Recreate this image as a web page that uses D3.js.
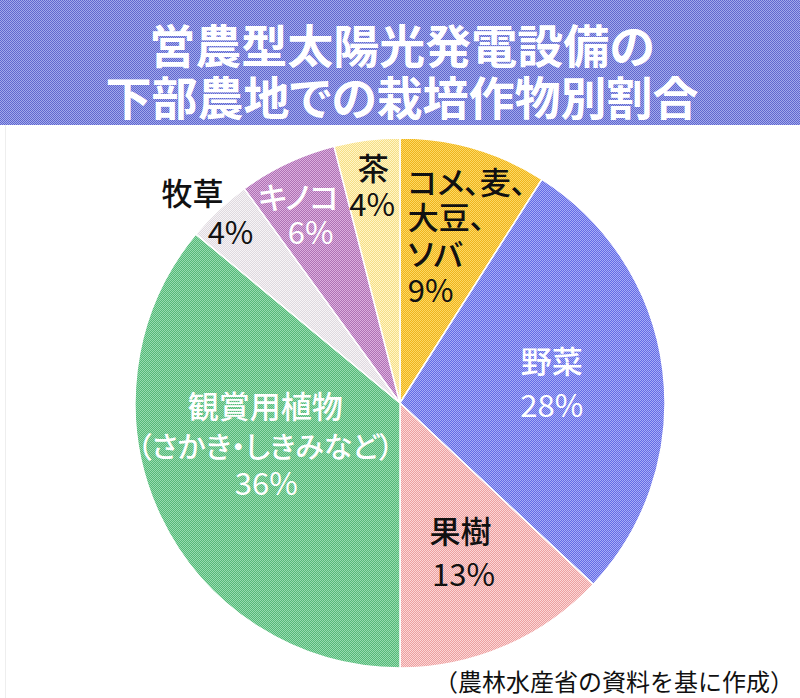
<!DOCTYPE html>
<html>
<head>
<meta charset="utf-8">
<script src="https://cdn.jsdelivr.net/npm/d3@7"></script>
<style>
  body { margin: 0; background: #fff; }
  svg { display: block; font-family: "Noto Sans CJK JP", "Noto Sans", sans-serif; font-feature-settings: "palt"; }
</style>
</head>
<body>
<div id="chart"></div>
<script>
const titleLines = ["営農型太陽光発電設備の", "下部農地での栽培作物別割合"];
const categories = ["コメ、麦、大豆、ソバ", "野菜", "果樹", "観賞用植物（さかき・しきみなど）", "牧草", "キノコ", "茶"];
const shares = [9, 28, 13, 36, 4, 6, 4];
const labelLines = [
  ["コメ、麦、", "大豆、", "ソバ", "9%"],
  ["野菜", "28%"],
  ["果樹", "13%"],
  ["観賞用植物", "（さかき・しきみなど）", "36%"],
  ["牧草", "4%"],
  ["キノコ", "6%"],
  ["茶", "4%"]
];
const source = "（農林水産省の資料を基に作成）";

const width = 800, height = 698;
const cx = 400, cy = 403, radius = 265;

// halftone look: light base + darker checker dots
const tones = [
  { light: "#fdd964", dark: "#efb41c" },
  { light: "#a6acf8", dark: "#646ce4" },
  { light: "#fcd6d6", dark: "#eca0a0" },
  { light: "#96dcb0", dark: "#56b878" },
  { light: "#f6f4f6", dark: "#dfd9df" },
  { light: "#dcaede", dark: "#ae72b4" },
  { light: "#fff5c8", dark: "#f6de84" }
];
const textColor = ["#111", "#fff", "#111", "#fff", "#111", "#fff", "#111"];

// label layout: radius along slice mid-angle, then per-line nudges
const layout = [
  { r: 175, anchor: "start", lines: [[-41, -54], [-41, -19], [-41, 18], [-41, 54]] },
  { r: 153, anchor: "middle", lines: [[0, -24], [0, 20]] },
  { r: 160, anchor: "middle", lines: [[-3, -20], [0, 23]] },
  { r: 140, anchor: "middle", lines: [[-8, -58], [-8, -18], [-7, 19]] },
  { r: 268, anchor: "middle", lines: [[-24, -16], [14, 23]] },
  { r: 210, anchor: "middle", lines: [[-12, -17], [0, 18]] },
  { r: 222, anchor: "middle", lines: [[1, -16], [0, 20]] }
];
const isPct = (t) => t.endsWith("%");

const svg = d3.select("#chart").append("svg")
  .attr("width", width)
  .attr("height", height);

const defs = svg.append("defs");
const addPattern = (id, light, dark) => {
  const p = defs.append("pattern")
    .attr("id", id)
    .attr("patternUnits", "userSpaceOnUse")
    .attr("width", 2)
    .attr("height", 2)
    .attr("shape-rendering", "crispEdges");
  p.append("rect").attr("width", 2).attr("height", 2).attr("fill", light);
  p.append("rect").attr("width", 1).attr("height", 1).attr("fill", dark);
  p.append("rect").attr("x", 1).attr("y", 1).attr("width", 1).attr("height", 1).attr("fill", dark);
};
tones.forEach((t, i) => addPattern("tone" + i, t.light, t.dark));
addPattern("banner", "#a2a8ec", "#6068ce");

// title banner
svg.append("rect")
  .attr("x", 0).attr("y", 0)
  .attr("width", width).attr("height", 125)
  .attr("fill", "url(#banner)");

svg.append("line")
  .attr("x1", 5.5).attr("x2", 5.5)
  .attr("y1", 125).attr("y2", height)
  .attr("stroke", "#eeeeee");

svg.selectAll(".title")
  .data(titleLines)
  .join("text")
  .attr("class", "title")
  .attr("x", 402)
  .attr("y", (d, i) => 43 + i * 52)
  .attr("dominant-baseline", "central")
  .attr("text-anchor", "middle")
  .attr("fill", "#fff")
  .style("font-size", "46px")
  .style("font-weight", "700")
  .text((d) => d);

const pie = d3.pie().sort(null).value((d) => d);
const arc = d3.arc().innerRadius(0).outerRadius(radius);
const arcs = pie(shares);

const g = svg.append("g").attr("transform", `translate(${cx}, ${cy})`);

g.selectAll("path")
  .data(arcs)
  .join("path")
  .attr("d", arc)
  .attr("fill", (d, i) => `url(#tone${i})`)
  .attr("stroke", "#fff")
  .attr("stroke-width", 1.5);

const labels = g.selectAll(".label")
  .data(arcs)
  .join("g")
  .attr("class", "label")
  .attr("transform", (d, i) => {
    const a = (d.startAngle + d.endAngle) / 2;
    const r = layout[i].r;
    return `translate(${Math.sin(a) * r}, ${-Math.cos(a) * r})`;
  });

labels.selectAll("text")
  .data((d, i) => labelLines[i].map((t, j) => ({ t, i, j })))
  .join("text")
  .attr("x", (d) => layout[d.i].lines[d.j][0])
  .attr("y", (d) => layout[d.i].lines[d.j][1])
  .attr("text-anchor", (d) => layout[d.i].anchor)
  .attr("dominant-baseline", "central")
  .attr("fill", (d) => textColor[d.i])
  .style("font-size", (d) => (d.t.startsWith("（") ? "29px" : "31px"))
  .style("font-weight", (d) => (isPct(d.t) ? "400" : "500"))
  .text((d) => d.t);

svg.append("text")
  .attr("x", 794)
  .attr("y", 680)
  .attr("text-anchor", "end")
  .attr("dominant-baseline", "central")
  .attr("fill", "#111")
  .style("font-size", "24px")
  .style("font-feature-settings", "normal")
  .text(source);
</script>
</body>
</html>
